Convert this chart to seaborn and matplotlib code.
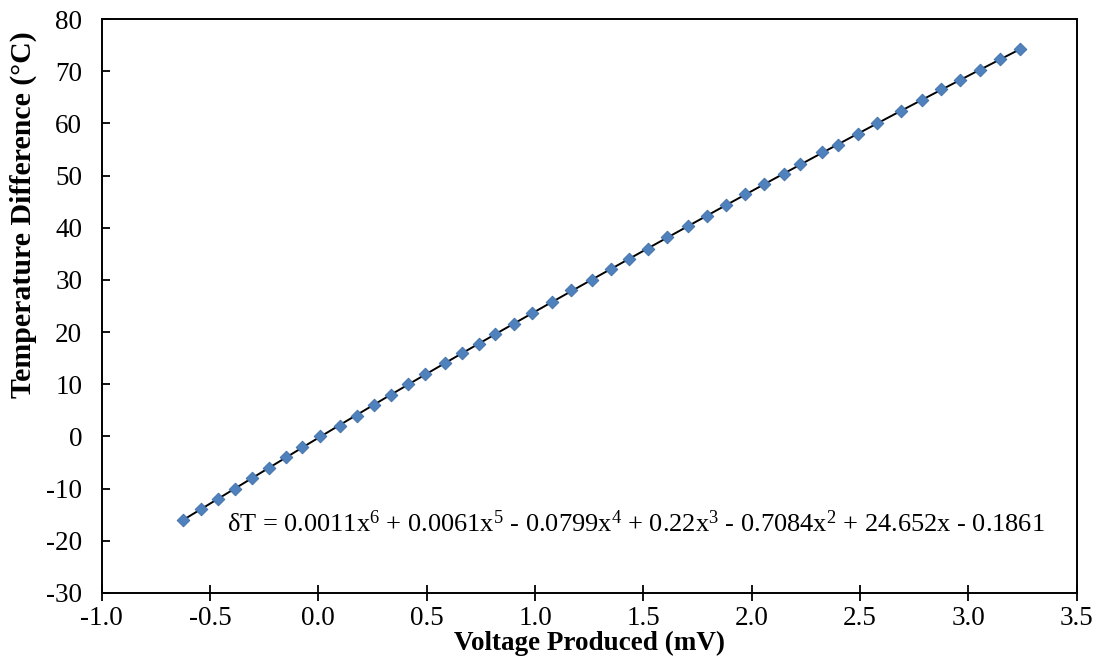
import numpy as np
import pandas as pd
import matplotlib
matplotlib.use("Agg")
import matplotlib.pyplot as plt
from matplotlib.ticker import FormatStrFormatter, MultipleLocator
import seaborn as sns

# dados (tensão em mV, diferença de temperatura em °C)
voltage = [-0.625, -0.542, -0.464, -0.385, -0.307, -0.228, -0.150, -0.076, 0.007,
           0.100, 0.178, 0.257, 0.335, 0.414, 0.492, 0.584, 0.663, 0.741, 0.815,
           0.903, 0.986, 1.078, 1.166, 1.263, 1.351, 1.434, 1.522, 1.610, 1.707,
           1.794, 1.882, 1.970, 2.057, 2.150, 2.224, 2.325, 2.398, 2.491, 2.578,
           2.689, 2.786, 2.874, 2.961, 3.054, 3.146, 3.239]
temp_diff = [-16, -14, -12, -10, -8, -6, -4, -2, 0,
             2, 4, 6, 8, 10, 12, 14, 16, 17.8, 19.6,
             21.5, 23.6, 25.8, 28, 30, 32, 34, 36, 38.2, 40.3,
             42.3, 44.4, 46.4, 48.3, 50.3, 52.2, 54.5, 55.9, 58, 60,
             62.4, 64.4, 66.5, 68.3, 70.3, 72.3, 74.2]

equation = (r"$\delta$T = 0.0011x$^{6}$ + 0.0061x$^{5}$ - 0.0799x$^{4}$ + 0.22x$^{3}$"
            r" - 0.7084x$^{2}$ + 24.652x - 0.1861")

dados = pd.DataFrame({"voltage": voltage, "temp": temp_diff})

# linha de tendência polinomial (grau 6)
coef = np.polyfit(dados["voltage"], dados["temp"], 6)
xs = np.linspace(dados["voltage"].min(), dados["voltage"].max(), 200)
fit = pd.DataFrame({"voltage": xs, "temp": np.polyval(coef, xs)})

sns.set_style("white")
plt.rcParams["font.family"] = ["Liberation Serif", "DejaVu Serif"]
plt.rcParams["mathtext.fontset"] = "custom"
plt.rcParams["mathtext.rm"] = "Liberation Serif"
plt.rcParams["mathtext.it"] = "Liberation Serif"
plt.rcParams["axes.unicode_minus"] = False
plt.rcParams["text.color"] = "black"
plt.rcParams["axes.labelcolor"] = "black"

fig = plt.figure(figsize=(11.04, 6.70), dpi=100)
ax = fig.add_axes([0.0921, 0.115, 0.8832, 0.8566])

sns.lineplot(data=fit, x="voltage", y="temp", color="black", linewidth=1.4, ax=ax)
sns.scatterplot(data=dados, x="voltage", y="temp", marker="D", s=42,
                color="#4F81BD", edgecolor="#3E6FA8", linewidth=0.6, zorder=3, ax=ax)

ax.set_xlim(-1.0, 3.5)
ax.set_ylim(-30, 80)
ax.xaxis.set_major_locator(MultipleLocator(0.5))
ax.yaxis.set_major_locator(MultipleLocator(10))
ax.xaxis.set_major_formatter(FormatStrFormatter("%.1f"))
ax.tick_params(axis="x", bottom=True, direction="inout", length=11, width=1.3,
               labelsize=19.5, pad=4, colors="black")
ax.tick_params(axis="y", left=True, direction="in", length=6, width=1.3,
               labelsize=19.5, pad=14, colors="black")
for s in ax.spines.values():
    s.set_color("black")
    s.set_linewidth(1.4)

ax.set_xlabel("Voltage Produced (mV)", fontsize=19.5, fontweight="bold",
              labelpad=0, color="black")
ax.set_ylabel("Temperature Difference (°C)", fontsize=21.5, fontweight="bold",
              color="black")
ax.yaxis.set_label_coords(-0.066, 0.66)

ax.text(0.129, 0.120, equation, transform=ax.transAxes, fontsize=19,
        ha="left", va="center", color="black")

fig.savefig("out.png", dpi=100)
